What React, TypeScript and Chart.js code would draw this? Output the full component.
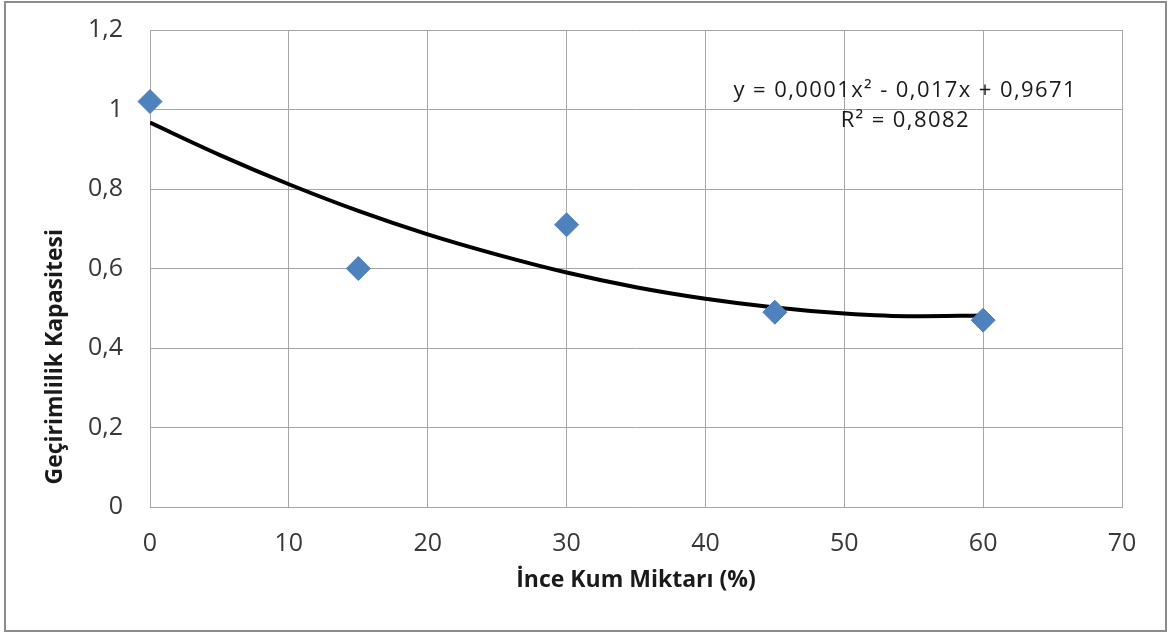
import React, { useEffect, useRef } from "react";
import { Chart, registerables } from "chart.js";

Chart.register(...registerables);

const sandPercent = [0, 15, 30, 45, 60];
const capacity = [1.02, 0.6, 0.71, 0.49, 0.47];
const trendX = [0, 5, 10, 15, 20, 25, 30, 35, 40, 45, 50, 55, 60];
const trendY = [0.967, 0.886, 0.812, 0.745, 0.686, 0.635, 0.59, 0.553, 0.524, 0.502, 0.487, 0.48, 0.482];
const equationLines = ["y = 0,0001x² - 0,017x + 0,9671", "R² = 0,8082"];
const xTitle = "İnce Kum Miktarı (%)";
const yTitle = "Geçirimlilik Kapasitesi";

const FONT = "'Open Sans', 'Noto Sans', sans-serif";

export default function App() {
  const ref = useRef<HTMLCanvasElement | null>(null);
  useEffect(() => {
    if (!ref.current) return;
    const framePlugin = {
      id: "frame",
      beforeDraw(chart: any) {
        const c = chart.ctx;
        c.save();
        c.fillStyle = "#ffffff";
        c.fillRect(0, 0, chart.width, chart.height);
        c.restore();
      },
      afterDraw(chart: any) {
        const c = chart.ctx;
        c.save();
        c.strokeStyle = "#8c8c8c";
        c.lineWidth = 2;
        c.strokeRect(5, 2, chart.width - 8, chart.height - 3);
        const a = chart.chartArea;
        // trendline equation
        const cx = a.left + (a.right - a.left) * 0.777;
        c.fillStyle = "#1a1a1a";
        c.font = `22px ${FONT}`;
        (c as any).letterSpacing = "1.4px";
        c.textAlign = "center";
        c.textBaseline = "middle";
        c.fillText(equationLines[0], cx, a.top + 61);
        c.fillText(equationLines[1], cx, a.top + 91);
        (c as any).letterSpacing = "0px";
        // y axis title
        c.translate(55, a.top + (a.bottom - a.top) * 0.685);
        c.rotate(-Math.PI / 2);
        c.font = `bold 23px ${FONT}`;
        c.fillText(yTitle, 0, 0);
        c.restore();
      },
    };
    const chart = new Chart(ref.current, {
      type: "scatter",
      data: {
        datasets: [
          {
            label: "trend",
            data: trendX.map((x, i) => ({ x, y: trendY[i] })),
            showLine: true,
            borderColor: "#000000",
            borderWidth: 4,
            pointRadius: 0,
            cubicInterpolationMode: "monotone",
            order: 2,
          } as any,
          {
            label: "data",
            data: sandPercent.map((x, i) => ({ x, y: capacity[i] })),
            pointStyle: "rectRot",
            pointRadius: 12,
            pointHoverRadius: 12,
            backgroundColor: "#4f81bd",
            borderColor: "#4f81bd",
            borderWidth: 1,
            clip: false,
            order: 1,
          } as any,
        ],
      },
      options: {
        animation: false,
        responsive: false,
        maintainAspectRatio: false,
        layout: { padding: { top: 30, right: 47, left: 0, bottom: 0 } },
        plugins: { legend: { display: false }, tooltip: { enabled: false } },
        scales: {
          x: {
            type: "linear",
            min: 0,
            max: 70,
            ticks: { stepSize: 10, padding: 22, color: "#383838", font: { family: FONT, size: 25 } },
            grid: { color: "#a6a6a6", lineWidth: 1, drawTicks: false },
            border: { color: "#a6a6a6" },
            title: {
              display: true,
              text: xTitle,
              color: "#1a1a1a",
              font: { family: FONT, size: 23, weight: "bold" },
              padding: { top: 0, bottom: 38 },
            },
            afterFit(scale: any) {
              scale.height = 125;
            },
          },
          y: {
            min: 0,
            max: 1.2,
            ticks: {
              stepSize: 0.2,
              padding: 2,
              color: "#383838",
              font: { family: FONT, size: 25 },
              callback: (v: any) => {
                const n = Math.round(Number(v) * 10) / 10;
                return String(n).replace(".", ",");
              },
            },
            grid: {
              color: "#a6a6a6",
              lineWidth: 1,
              drawTicks: true,
              tickLength: 25,
              tickColor: "rgba(0,0,0,0)",
            },
            border: { color: "#a6a6a6" },
            title: { display: false },
            afterFit(scale: any) {
              scale.width = 150;
            },
          },
        },
      },
      plugins: [framePlugin],
    });
    return () => chart.destroy();
  }, []);
  return (
    <div style={{ position: "fixed", left: 0, top: 0, width: 1169, height: 632 }}>
      <canvas ref={ref} width={1169} height={632} style={{ display: "block" }} />
    </div>
  );
}
